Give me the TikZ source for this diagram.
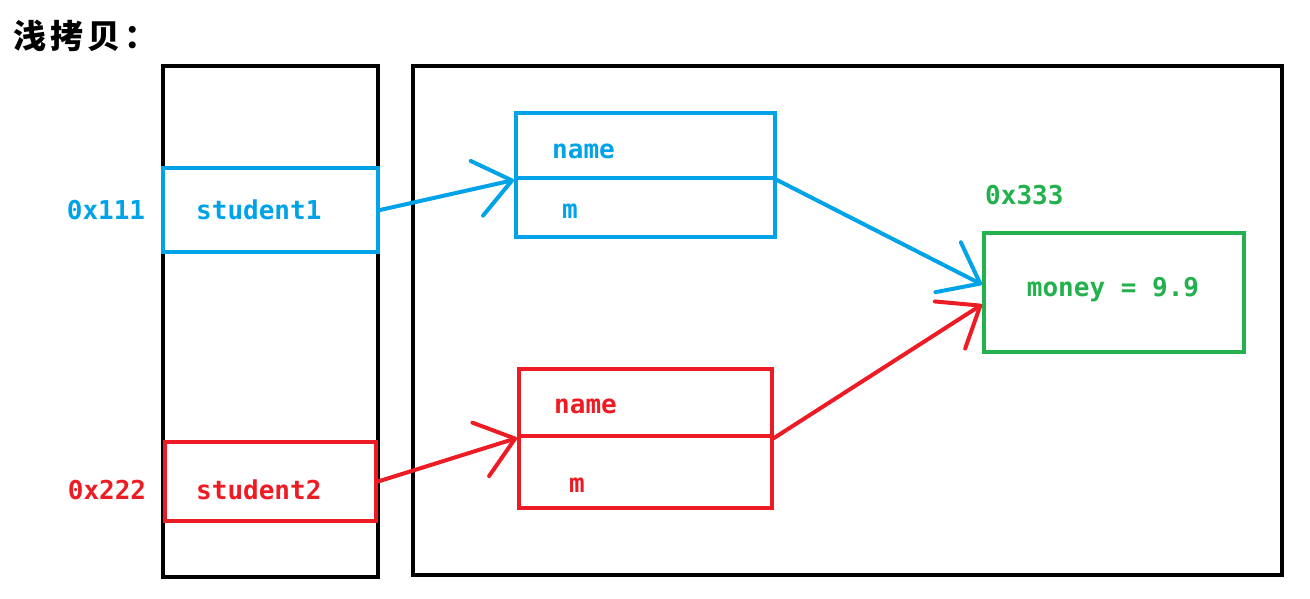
\documentclass[tikz,border=0pt]{standalone}
\usepackage{fontspec}
\setmonofont{DejaVu Sans Mono}
\newfontfamily\cjkfont[LetterSpace=12]{Noto Sans CJK SC}
\usetikzlibrary{arrows.meta}
\definecolor{refBlue}{HTML}{00A2E8}
\definecolor{refRed}{HTML}{ED1C24}
\definecolor{heapGreen}{HTML}{22B14C}

\begin{document}
\begin{tikzpicture}[x=1pt, y=-1pt,
    frame/.style={draw, line width=4pt, inner sep=0pt},
    cell/.style={draw=#1, line width=4pt, inner sep=0pt},
    txt/.style={text=#1, inner sep=0pt, font=\ttfamily\bfseries\fontsize{26}{30}\selectfont},
    ptr/.style={draw=#1, line width=4pt, line cap=round,
        -{Straight Barb[length=36pt, width=56pt, round]}}]
    \useasboundingbox (0,0) rectangle (1310,598);
    \node[anchor=west, inner sep=0pt, font=\cjkfont\bfseries\fontsize{33}{36}\selectfont] (title) at (13,36) {浅拷贝：};

    % stack and heap
    \node[frame, minimum width=215pt, minimum height=511pt] (stack) at (270.5,321.5) {};
    \node[frame, minimum width=869pt, minimum height=509pt] (heap) at (847.5,320.5) {};

    % references
    \node[cell=refBlue, minimum width=215pt, minimum height=84pt] (s1) at (270.5,210) {};
    \node[cell=refRed, minimum width=211pt, minimum height=79pt] (s2) at (270.5,481.5) {};
    \node[txt=refBlue] (addr1) at (106,210) {0x111};
    \node[txt=refBlue, anchor=west] (lab1) at (196,210) {student1};
    \node[txt=refRed] (addr2) at (107,490) {0x222};
    \node[txt=refRed, anchor=west] (lab2) at (196,490) {student2};

    % objects
    \node[cell=refBlue, minimum width=259pt, minimum height=65pt] (name1) at (645.5,145.5) {};
    \node[cell=refBlue, minimum width=259pt, minimum height=59pt] (m1) at (645.5,207.5) {};
    \node[txt=refBlue, anchor=west] at (552,151) {name};
    \node[txt=refBlue] at (570,211) {m};
    \node[cell=refRed, minimum width=253pt, minimum height=67pt] (name2) at (645.5,402.5) {};
    \node[cell=refRed, minimum width=253pt, minimum height=72pt] (m2) at (645.5,472) {};
    \node[txt=refRed, anchor=west] at (554,406) {name};
    \node[txt=refRed] at (577,485) {m};

    % shared money
    \node[cell=heapGreen, minimum width=260pt, minimum height=119pt] (money) at (1114,292.5) {};
    \node[txt=heapGreen, anchor=west] (addr3) at (985,195) {0x333};
    \node[txt=heapGreen] (val) at (1113,290) {money = 9.9};

    \draw[ptr=refBlue] (s1.east) -- (name1.south west);
    \draw[ptr=refBlue] (name1.south east) -- ([yshift=8pt]money.west);
    \draw[ptr=refRed] (s2.east) -- (name2.south west);
    \draw[ptr=refRed] (name2.south east) -- ([yshift=-12pt]money.west);
\end{tikzpicture}
\end{document}
